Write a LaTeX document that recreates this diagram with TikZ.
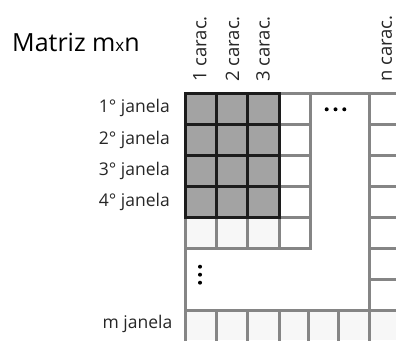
\documentclass[tikz,border=0pt]{standalone}
\usepackage{fontspec}
\setmainfont{Open Sans}
\definecolor{gridgray}{HTML}{858585}
\definecolor{cellgray}{HTML}{A3A3A3}
\definecolor{lightcell}{HTML}{F7F7F7}
\definecolor{darkline}{HTML}{1C1C1C}
\begin{document}
\begin{tikzpicture}[x=1pt,y=-1pt,
  gline/.style={draw=gridgray,line width=3pt,line cap=rect},
  bline/.style={draw=darkline,line width=3pt,line cap=rect},
  lbl/.style={font=\fontsize{17.5}{17.5}\selectfont, text=black!85, inner sep=0pt},
  collbl/.style={font=\fontsize{18.5}{18.5}\selectfont, text=black!85, inner sep=0pt, rotate=90, anchor=west},
  dotmark/.style={fill=black},
  ]
\useasboundingbox (0,0) rectangle (396,340);

% fills
\fill[cellgray] (185.5,93) rectangle (279,217);
\fill[lightcell] (185.5,217) rectangle (279,248);
\fill[lightcell] (185.5,310) rectangle (396,340);

% gray grid lines
\draw[gline] (185.5,93) -- (396,93);
\draw[gline] (185.5,93) -- (185.5,342);
\draw[gline] (279,93) -- (279,248);
\draw[gline] (310,93) -- (310,248);
\foreach \y in {124,155,186,217} \draw[gline] (279,\y) -- (310,\y);
\draw[gline] (185.5,248) -- (310,248);
\foreach \x in {216.5,247.5} \draw[gline] (\x,217) -- (\x,248);
\draw[gline] (369,93) -- (369,342);
\foreach \y in {124,155.5,186.5,217,248,279} \draw[gline] (369,\y) -- (397,\y);
\draw[gline] (185.5,310) -- (397,310);
\foreach \x in {216.7,247.7,279,308.3,338.3} \draw[gline] (\x,310) -- (\x,342);

% black grid over gray block
\draw[bline] (185.5,93) rectangle (279,217);
\foreach \x in {216.5,247.5} \draw[bline] (\x,93) -- (\x,217);
\foreach \y in {124,155,186} \draw[bline] (185.5,\y) -- (279,\y);

% ellipses
\foreach \x in {326.7,335.5,344.3} \fill[dotmark] (\x,109.3) circle (2);
\foreach \y in {266.7,274.7,282.7} \fill[dotmark] (200,\y) circle (2);

% title
\node[anchor=base west, inner sep=0pt, font=\fontsize{25}{25}\selectfont] (title) at (12,51) {Matriz m{\fontsize{17}{17}\selectfont x}n};

% row labels
\node[lbl, anchor=base east] (r1) at (170,112.5) {1° janela};
\node[lbl, anchor=base east] (r2) at (170,144) {2° janela};
\node[lbl, anchor=base east] (r3) at (170,175.5) {3° janela};
\node[lbl, anchor=base east] (r4) at (170,206.5) {4° janela};
\node[lbl, anchor=base east] (rm) at (172.5,328) {m janela};

% column labels
\node[collbl] (c1) at (200,82) {1 carac.};
\node[collbl] (c2) at (232.5,82) {2 carac.};
\node[collbl] (c3) at (263,82) {3 carac.};
\node[collbl] (cn) at (387,82) {n carac.};
\end{tikzpicture}
\end{document}
